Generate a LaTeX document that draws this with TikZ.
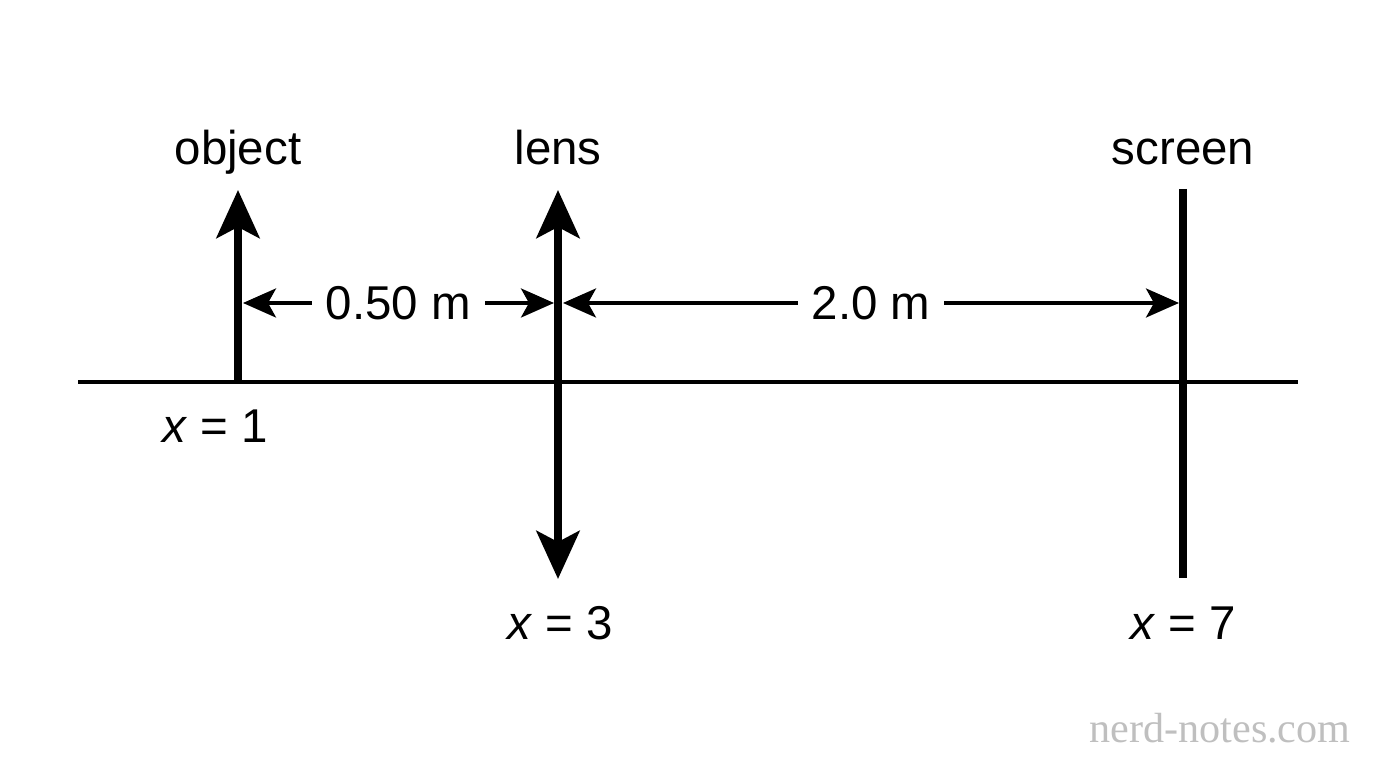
\documentclass[tikz,border=0pt]{standalone}
\usepackage{fontspec}
\setmainfont{Liberation Sans}
\newfontfamily\markfont{Liberation Serif}
\usepackage{tikz}
\usetikzlibrary{arrows.meta,positioning,calc}

\begin{document}
\begin{tikzpicture}[
    lbl/.style={inner sep=0pt, font=\fontsize{13.5}{16}\selectfont},
    axis/.style={line width=1.15pt},
    bar/.style={line width=2.3pt},
    ray/.style={bar, -{Stealth[length=0.48cm, width=0.43cm, inset=0.11cm]}},
    dim/.style={line width=1pt, {Stealth[length=0.33cm, width=0.29cm, inset=0.08cm]}-{Stealth[length=0.33cm, width=0.29cm, inset=0.08cm]}},
    gap/.style={lbl, fill=white, inner xsep=0.14cm, inner ysep=2pt}
]
    \useasboundingbox (0,0) rectangle (13.76,7.68);

    % optical axis
    \coordinate (axl) at (0.78,3.86);
    \coordinate (axr) at (12.98,3.86);
    \draw[axis] (axl) -- (axr);

    % object, lens, screen
    \coordinate (objbase) at (2.38,3.86);
    \coordinate (objtip) at (2.38,5.78);
    \coordinate (lenstop) at (5.58,5.78);
    \coordinate (lensbot) at (5.58,1.89);
    \coordinate (lensmid) at (5.58,3.86);
    \coordinate (scrtop) at (11.83,5.79);
    \coordinate (scrbot) at (11.83,1.90);

    \draw[ray] (objbase) -- (objtip);
    \draw[ray] (lensmid) -- (lenstop);
    \draw[ray] (lensmid) -- (lensbot);
    \draw[bar] (scrtop) -- (scrbot);

    % labels
    \node[lbl, anchor=base] (objlbl) at (2.38,6.03) {object};
    \node[lbl, anchor=base] (lenslbl) at (5.58,6.03) {lens};
    \node[lbl, anchor=base] (scrlbl) at (11.83,6.03) {screen};

    \node[lbl, anchor=base] (x1) at (2.15,3.25) {\textit{x} = 1};
    \node[lbl, anchor=base] (x3) at (5.60,1.28) {\textit{x} = 3};
    \node[lbl, anchor=base] (x7) at (11.83,1.28) {\textit{x} = 7};

    % distances
    \coordinate (d1) at (2.43,4.65);
    \coordinate (d2) at (5.54,4.65);
    \coordinate (d3) at (5.63,4.65);
    \coordinate (d4) at (11.79,4.65);
    \draw[dim] (d1) -- node[gap] (dlbl1) {0.50 m} (d2);
    \draw[dim] (d3) -- node[gap] (dlbl2) {2.0 m} (d4);

    \node[anchor=base, inner sep=0pt, text=black!25, font=\markfont\fontsize{12}{14}\selectfont] (mark) at (12.20,0.25) {nerd-notes.com};
\end{tikzpicture}
\end{document}
